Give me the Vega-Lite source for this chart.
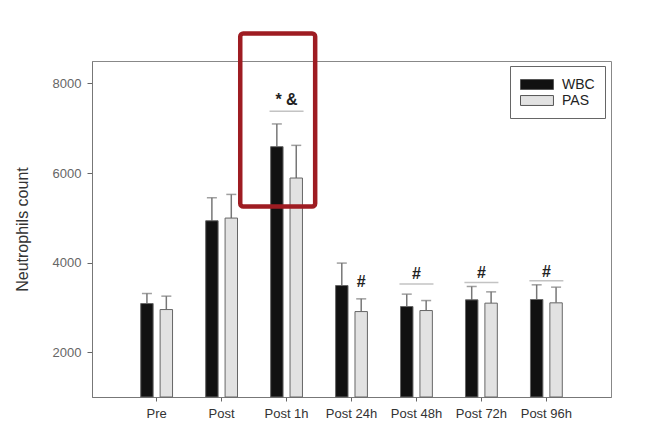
{
  "$schema": "https://vega.github.io/schema/vega-lite/v6.json",
  "width": 519,
  "height": 336,
  "autosize": {"type": "none"},
  "padding": {"left": 92, "top": 61, "right": 47, "bottom": 43},
  "background": "white",
  "config": {
    "font": "Liberation Sans",
    "view": {"stroke": "#888", "strokeWidth": 1},
    "axis": {"grid": false, "domainColor": "#777", "tickColor": "#666"}
  },
  "datasets": {
    "bars": [
      {"cat": "Pre", "series": "WBC", "value": 3086, "err": 3310},
      {"cat": "Pre", "series": "PAS", "value": 2952, "err": 3251},
      {"cat": "Post", "series": "WBC", "value": 4934, "err": 5448},
      {"cat": "Post", "series": "PAS", "value": 4994, "err": 5522},
      {"cat": "Post 1h", "series": "WBC", "value": 6588, "err": 7095},
      {"cat": "Post 1h", "series": "PAS", "value": 5888, "err": 6617},
      {"cat": "Post 24h", "series": "WBC", "value": 3488, "err": 3989},
      {"cat": "Post 24h", "series": "PAS", "value": 2907, "err": 3191},
      {"cat": "Post 48h", "series": "WBC", "value": 3019, "err": 3296},
      {"cat": "Post 48h", "series": "PAS", "value": 2930, "err": 3153},
      {"cat": "Post 72h", "series": "WBC", "value": 3169, "err": 3467},
      {"cat": "Post 72h", "series": "PAS", "value": 3095, "err": 3347},
      {"cat": "Post 96h", "series": "WBC", "value": 3176, "err": 3504},
      {"cat": "Post 96h", "series": "PAS", "value": 3102, "err": 3452}
    ],
    "marks": [
      {"cat": "Post 1h", "label": "* &", "ty": 7620, "line": 7377},
      {"cat": "Post 48h", "label": "#", "ty": 3750, "line": 3520},
      {"cat": "Post 72h", "label": "#", "ty": 3779, "line": 3555},
      {"cat": "Post 96h", "label": "#", "ty": 3788, "line": 3593}
    ],
    "marks2": [
      {"cat": "Post 24h", "series": "PAS", "label": "#", "ty": 3578}
    ],
    "box": [
      {"x0": 1.285, "x1": 2.44, "y0": 5254, "y1": 9113}
    ]
  },
  "resolve": {"scale": {"x": "independent"}},
  "layer": [
    {
      "layer": [
        {
          "data": {"name": "bars"},
          "encoding": {
            "x": {
              "field": "cat", "type": "nominal", "sort": ["Pre", "Post", "Post 1h", "Post 24h", "Post 48h", "Post 72h", "Post 96h"],
              "scale": {"paddingInner": 0.51, "paddingOuter": 0.75},
              "axis": {"title": null, "labelAngle": 0, "labelFontSize": 13, "labelColor": "#333", "tickSize": 4, "labelPadding": 6}
            },
            "xOffset": {"field": "series", "type": "nominal", "sort": ["WBC", "PAS"], "scale": {"paddingInner": 0.36, "paddingOuter": 0}},
            "y": {
              "field": "value", "type": "quantitative",
              "scale": {"domain": [1000, 8500], "nice": false, "zero": false},
              "axis": {"title": "Neutrophils count", "values": [2000, 4000, 6000, 8000], "format": "d", "labelFontSize": 13, "labelColor": "#666", "tickSize": 5, "labelPadding": 6, "titleFontSize": 16, "titleFontWeight": "normal", "titleColor": "#333", "titlePadding": 22}
            }
          },
          "layer": [
            {
              "mark": {"type": "rule", "color": "#777", "strokeWidth": 1.5},
              "encoding": {"y2": {"field": "err"}}
            },
            {
              "mark": {"type": "tick", "color": "#777", "size": 10, "thickness": 1.5},
              "encoding": {"y": {"field": "err", "type": "quantitative"}}
            },
            {
              "mark": {"type": "bar", "stroke": "#666", "strokeWidth": 1},
              "encoding": {
                "y2": {"datum": 1000},
                "color": {
                  "field": "series", "type": "nominal",
                  "scale": {"domain": ["WBC", "PAS"], "range": ["#111111", "#e2e2e2"]},
                  "legend": {
                    "title": null, "orient": "none", "legendX": 418, "legendY": 5,
                    "fillColor": "white", "strokeColor": "#666", "padding": 10,
                    "symbolType": "M-1,-0.62H3.12V0.62H-1Z", "symbolSize": 256,
                    "symbolStrokeColor": "#555", "symbolStrokeWidth": 1, "symbolOpacity": 1,
                    "labelFontSize": 14, "labelColor": "#222", "labelOffset": 25, "rowPadding": 0
                  }
                }
              }
            }
          ]
        },
        {
          "data": {"name": "marks"},
          "encoding": {
            "x": {"field": "cat", "type": "nominal", "sort": ["Pre", "Post", "Post 1h", "Post 24h", "Post 48h", "Post 72h", "Post 96h"]}
          },
          "layer": [
            {
              "mark": {"type": "tick", "color": "#aaa", "size": 34, "thickness": 1.5},
              "encoding": {"y": {"field": "line", "type": "quantitative"}}
            },
            {
              "mark": {"type": "text", "fontSize": 16, "fontWeight": "bold", "color": "#222", "baseline": "middle"},
              "encoding": {"y": {"field": "ty", "type": "quantitative"}, "text": {"field": "label"}}
            }
          ]
        },
        {
          "data": {"name": "marks2"},
          "mark": {"type": "text", "fontSize": 16, "fontWeight": "bold", "color": "#222", "baseline": "middle"},
          "encoding": {
            "x": {"field": "cat", "type": "nominal", "sort": ["Pre", "Post", "Post 1h", "Post 24h", "Post 48h", "Post 72h", "Post 96h"]},
            "xOffset": {"field": "series", "type": "nominal", "sort": ["WBC", "PAS"]},
            "y": {"field": "ty", "type": "quantitative"},
            "text": {"field": "label"}
          }
        }
      ]
    },
    {
      "data": {"name": "box"},
      "mark": {"type": "rect", "fill": null, "fillOpacity": 0, "stroke": "#9e1c22", "strokeWidth": 4.5, "cornerRadius": 3, "clip": false},
      "encoding": {
        "x": {"field": "x0", "type": "quantitative", "scale": {"domain": [-1, 7], "nice": false, "zero": false}, "axis": null},
        "x2": {"field": "x1"},
        "y": {"field": "y0", "type": "quantitative"},
        "y2": {"field": "y1"}
      }
    }
  ]
}
